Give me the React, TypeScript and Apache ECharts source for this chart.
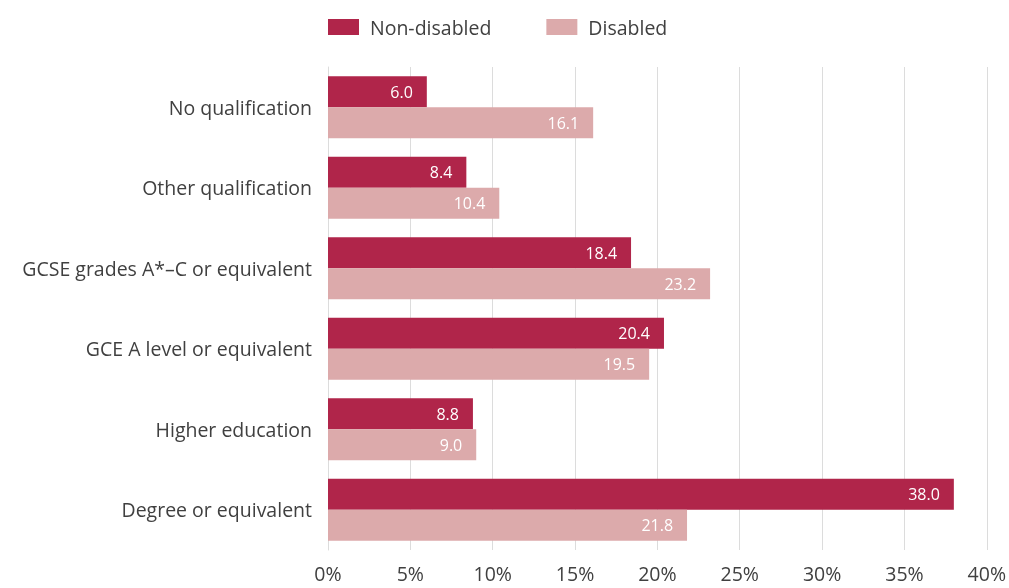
import React, { useEffect, useRef } from "react";
import * as echarts from "echarts";

const categories = [
  "No qualification",
  "Other qualification",
  "GCSE grades A*–C or equivalent",
  "GCE A level or equivalent",
  "Higher education",
  "Degree or equivalent",
];
const nonDisabled = [6.0, 8.4, 18.4, 20.4, 8.8, 38.0];
const disabled = [16.1, 10.4, 23.2, 19.5, 9.0, 21.8];
const xTicks = { min: 0, max: 40, interval: 5 };

const FONT = "'Open Sans', 'Noto Sans', sans-serif";
const TEXT = "#404040";

export default function App() {
  const ref = useRef<HTMLDivElement>(null);
  useEffect(() => {
    if (!ref.current) return;
    const chart = echarts.init(ref.current, undefined, { renderer: "svg" });
    const label = {
      show: true,
      position: "insideRight",
      distance: 14,
      color: "#ffffff",
      fontFamily: FONT,
      fontSize: 16,
      formatter: (p: any) => Number(p.value).toFixed(1),
    };
    chart.setOption({
      animation: false,
      textStyle: { fontFamily: FONT, color: TEXT },
      legend: {
        top: 12,
        left: 323,
        itemWidth: 31,
        itemHeight: 16,
        itemGap: 55,
        icon: "rect",
        textStyle: { fontFamily: FONT, fontSize: 19.5, color: TEXT, padding: [0, 0, 0, 6] },
        data: ["Non-disabled", "Disabled"],
      },
      grid: { left: 328, right: 21, top: 67, bottom: 38, containLabel: false },
      xAxis: {
        type: "value",
        min: xTicks.min,
        max: xTicks.max,
        interval: xTicks.interval,
        axisLine: { show: false },
        axisTick: { show: false },
        splitLine: { show: true, lineStyle: { color: "#dcdcdc", width: 1 } },
        axisLabel: {
          formatter: "{value}%",
          fontFamily: FONT,
          fontSize: 19.5,
          color: TEXT,
          margin: 13,
        },
      },
      yAxis: {
        type: "category",
        inverse: true,
        data: categories,
        axisLine: { show: true, lineStyle: { color: "#dcdcdc", width: 1 } },
        axisTick: { show: false },
        axisLabel: { fontFamily: FONT, fontSize: 19.5, color: TEXT, margin: 16 },
      },
      series: [
        {
          name: "Non-disabled",
          type: "bar",
          data: nonDisabled,
          barWidth: 31,
          barGap: "0%",
          itemStyle: { color: "#B0254A" },
          label,
        },
        {
          name: "Disabled",
          type: "bar",
          data: disabled,
          barWidth: 31,
          barGap: "0%",
          itemStyle: { color: "#DCAAAB" },
          label,
        },
      ],
    });
    return () => chart.dispose();
  }, []);
  return (
    <div
      ref={ref}
      style={{ position: "fixed", left: 0, top: 0, width: 1009, height: 588 }}
    />
  );
}
